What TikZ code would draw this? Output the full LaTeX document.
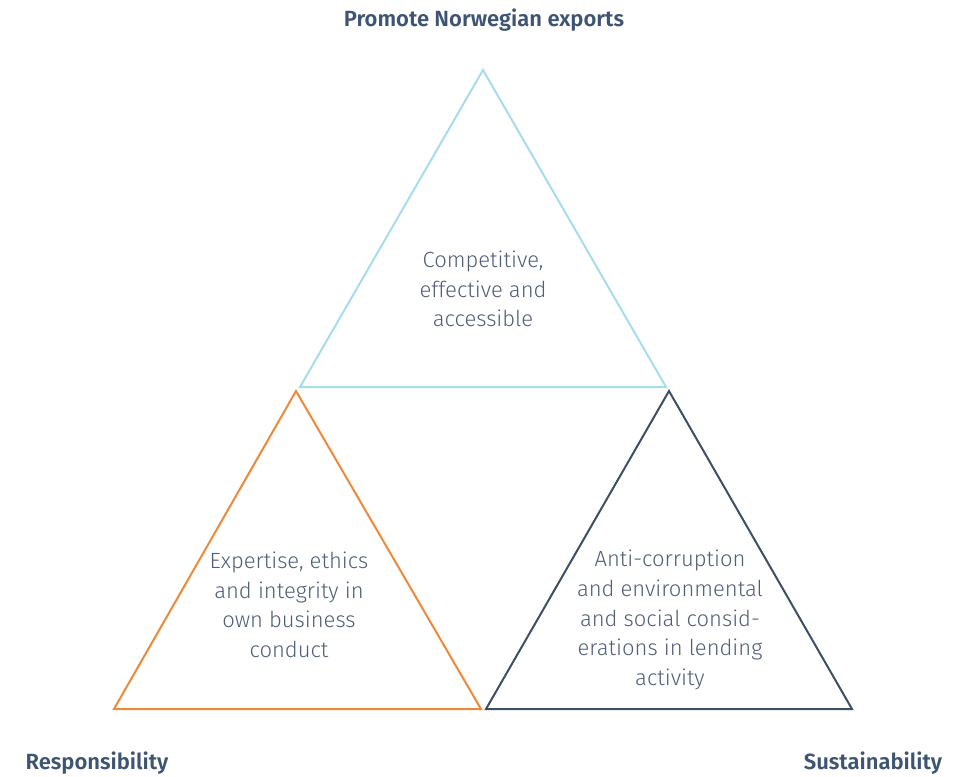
\documentclass[tikz,border=0pt]{standalone}
\usepackage{fontspec}
\setmainfont{Fira Sans Light}[BoldFont=Fira Sans SemiBold]
\usepackage{tikz}
\usetikzlibrary{calc}

\definecolor{txtgrey}{HTML}{4F5F78}
\definecolor{headblue}{HTML}{3D5573}
\definecolor{lightblue}{HTML}{A6DCEC}
\definecolor{orangeline}{HTML}{F0883A}
\definecolor{darkslate}{HTML}{3E4E65}

\tikzset{
	tri/.style={line width=1pt, line join=miter},
	inner/.style={text=txtgrey, align=center, font=\fontsize{11}{14.8}\selectfont},
	corner/.style={text=headblue, font=\fontsize{11}{13}\selectfont\bfseries}
}

\begin{document}
\begin{tikzpicture}[x=0.5pt, y=-0.5pt]

	\useasboundingbox (0,0) rectangle (970,777);

	% corners of the three triangles
	\coordinate (topA) at (483,70);
	\coordinate (topL) at (300,387);
	\coordinate (topR) at (666,387);

	\coordinate (resA) at (296,391);
	\coordinate (resL) at (114,709);
	\coordinate (resR) at (481,709);

	\coordinate (susA) at (669,391);
	\coordinate (susL) at (486,709);
	\coordinate (susR) at (852,709);

	% triangles
	\draw[tri, lightblue] (topA) -- (topL) -- (topR) -- cycle;
	\draw[tri, orangeline] (resA) -- (resL) -- (resR) -- cycle;
	\draw[tri, darkslate] (susA) -- (susL) -- (susR) -- cycle;

	% texts inside
	\node[inner] (exports) at (483,289) {Competitive,\\effective and\\accessible};
	\node[inner] (ethics) at (289,605) {Expertise, ethics\\and integrity in\\own business\\conduct};
	\node[inner] (lending) at (670,620) {Anti-corruption\\and environmental\\and social consid-\\erations in lending\\activity};

	% headings
	\node[corner] (promote) at (484,20) {Promote Norwegian exports};
	\node[corner] (respons) at (97,763) {Responsibility};
	\node[corner] (sustain) at (873,763) {Sustainability};

\end{tikzpicture}
\end{document}
